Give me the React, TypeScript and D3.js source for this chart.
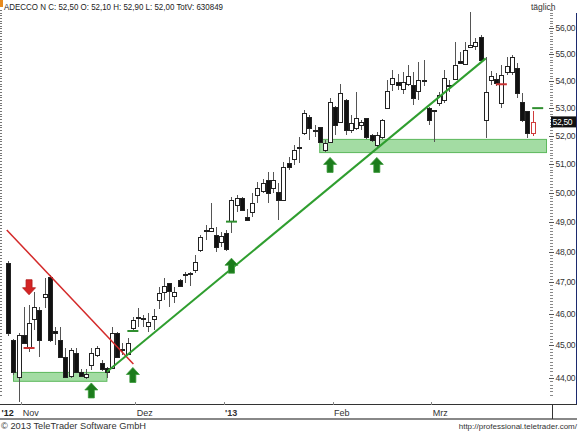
import React, { useEffect } from "react";
import * as d3 from "d3";

// ---- data ----
const opens = [47.63,45.17,44.03,45.33,44.92,45.83,46.11,46.53,47.17,45.44,45.17,44.64,44.06,44.77,44.18,44.03,44.40,44.70,44.46,44.30,44.30,45.39,44.89,44.73,45.54,45.86,45.83,45.61,45.83,46.43,46.70,46.97,46.57,47.08,47.28,47.28,47.40,48.06,48.70,48.70,48.56,48.34,48.62,49.03,49.58,49.80,49.17,49.33,49.93,50.04,50.44,50.16,50.03,49.75,51.02,51.19,51.61,52.09,52.69,52.21,52.30,51.49,51.79,53.05,52.51,53.30,52.21,52.27,52.39,52.63,52.03,51.67,51.97,53.01,53.90,53.97,53.70,53.90,53.85,53.63,53.99,52.99,52.93,53.17,53.30,53.80,54.07,54.75,54.63,55.30,55.33,55.68,52.57,54.04,54.08,53.20,54.32,54.32,54.47,53.24,52.89,52.10];
const highs = [47.70,45.20,45.40,46.21,46.27,46.69,46.21,47.14,47.23,45.58,45.58,44.92,44.92,44.92,44.27,44.27,44.92,44.98,44.55,44.33,45.58,45.42,45.07,45.23,45.89,46.18,45.95,46.02,46.14,46.86,47.14,46.99,46.86,47.10,47.35,47.35,47.89,48.55,48.90,49.63,48.82,48.67,48.73,49.86,49.92,49.84,49.44,49.98,50.38,50.47,50.73,50.70,50.32,51.08,51.25,51.67,51.97,52.93,52.75,52.39,52.33,51.85,53.36,53.07,53.88,53.32,52.75,53.61,52.57,52.63,52.05,52.12,52.60,54.04,54.41,54.26,54.33,54.60,54.34,54.70,54.79,53.05,52.95,53.61,54.41,54.02,55.49,55.10,55.49,56.65,55.62,55.74,54.89,54.36,54.29,54.60,54.92,54.99,54.66,53.55,52.89,52.90];
const lows = [45.30,44.10,43.28,45.03,44.80,45.48,44.64,46.18,45.12,45.01,44.61,43.99,44.00,44.15,44.03,43.97,44.24,44.64,44.21,44.00,44.28,44.61,44.70,44.70,45.45,45.58,45.58,45.42,45.48,46.14,46.43,46.22,46.32,46.86,46.97,46.88,47.31,48.00,48.39,48.67,48.00,48.17,48.03,48.62,49.35,49.36,49.04,49.17,49.66,49.98,49.64,49.98,49.07,49.73,50.79,50.96,51.02,52.02,51.85,51.97,51.78,51.43,51.73,52.02,52.48,52.02,52.09,52.21,52.21,51.90,51.79,51.61,51.90,52.97,53.63,53.67,53.52,53.80,53.11,53.30,53.80,52.39,51.79,53.06,53.18,53.60,54.04,54.63,54.61,55.24,55.17,54.73,51.91,53.85,53.80,53.02,54.22,54.22,53.37,52.51,51.91,52.00];
const closes = [45.39,44.18,45.33,45.07,45.70,46.21,45.17,46.62,45.17,45.40,44.64,44.03,44.86,44.18,44.06,44.12,44.77,44.92,44.27,44.18,45.39,44.64,44.86,45.07,45.80,45.89,45.86,45.73,45.92,46.66,46.88,46.73,46.70,46.88,47.25,47.31,47.68,48.48,48.73,48.80,48.17,48.53,48.08,49.75,49.80,49.40,49.06,49.66,50.15,50.33,49.98,50.44,49.75,50.90,50.90,51.49,51.58,52.81,52.27,52.19,51.79,51.73,53.24,52.39,53.54,52.21,52.45,52.63,52.51,51.97,51.85,52.03,52.57,53.63,54.10,53.85,53.95,54.17,53.38,54.04,54.02,52.57,52.91,53.48,54.11,53.84,54.60,54.67,55.17,55.34,55.49,54.79,53.61,54.17,53.92,54.22,54.56,54.89,53.55,52.57,52.09,52.50];

const yTickValues = [44, 45, 46, 47, 48, 49, 50, 51, 52, 53, 54, 55, 56];
const monthTickIndex = [3, 25, 42, 63, 82];
const monthTickText = ["Nov", "Dez", "'13", "Feb", "Mrz"];
const monthTickBold = [false, false, true, false, false];
const yearStartLabel = "'12";

const greenLine = [{ i: 19, v: 44.19 }, { i: 92, v: 54.85 }];
const redLine = [{ i: -0.3, v: 48.73 }, { i: 24.1, v: 44.43 }];
const zoneFrom = [1, 60];
const zoneTo = [19, 103.7];
const zoneLow = [43.9, 51.4];
const zoneHigh = [44.17, 51.87];
const upArrowIndex = [16, 24, 43, 62, 71];
const upArrowTip = [43.85, 44.32, 47.79, 51.23, 51.23];
const downArrowIndex = [4];
const downArrowTip = [46.6];
const markIndex = [4, 24, 43, 95, 102];
const markValue = [44.92, 45.45, 49.01, 53.88, 53.0];
const markKind = ["sell", "buy", "buy", "sell", "buy"];

const lastPrice = 52.5;
const headerText = "ADECCO N C: 52,50 O: 52,10 H: 52,90 L: 52,00 TotV: 630849";

const W = 578;
const H = 432;
const FONT = "'Liberation Sans', Arial, sans-serif";

export default function App() {
  useEffect(() => {
    document.body.style.margin = "0";
  }, []);

  const n = opens.length;
  const x = d3.scaleLinear().domain([0, n - 1]).range([8.3, 532.5]);
  const y = d3.scaleLog().domain([44, 56]).range([378, 28.3]);
  const fmt = (v: number) => v.toFixed(2).replace(".", ",");
  const cx = (i: number) => Math.round(x(i)) + 0.5;

  const minorTicks = d3.range(435, 568).map((k) => k / 10);
  const lineGen = d3
    .line<{ i: number; v: number }>()
    .x((d) => x(d.i))
    .y((d) => y(d.v));

  const upArrow = (px: number, t: number) =>
    `M${px},${t} L${px + 6.5},${t + 7} L${px + 3},${t + 7} L${px + 3},${t + 15} L${px - 3},${t + 15} L${px - 3},${t + 7} L${px - 6.5},${t + 7} Z`;
  const downArrow = (px: number, t: number) =>
    `M${px},${t} L${px + 6.5},${t - 7} L${px + 3},${t - 7} L${px + 3},${t - 15} L${px - 3},${t - 15} L${px - 3},${t - 7} L${px - 6.5},${t - 7} Z`;

  return (
    <svg
      width={W}
      height={H}
      style={{ position: "absolute", left: 0, top: 0, display: "block", background: "#fff" }}
      fontFamily={FONT}
    >
      <rect x={0} y={0} width={W} height={H} fill="#fff" />
      {/* header */}
      <rect x={0} y={0} width={3} height={7} fill="#e8891c" />
      <text x={4} y={9.5} fontSize={9.5} fill="#222" textLength={219} lengthAdjust="spacingAndGlyphs">
        {headerText}
      </text>
      <text x={531} y={9.5} fontSize={8.5} fill="#333">täglich</text>

      {/* support zones */}
      {zoneFrom.map((f, k) => (
        <rect
          key={"z" + k}
          x={x(f)}
          y={y(zoneHigh[k])}
          width={x(zoneTo[k]) - x(f)}
          height={y(zoneLow[k]) - y(zoneHigh[k])}
          fill="#a3dca3"
          stroke="#5cb85c"
          strokeWidth={1}
        />
      ))}

      {/* candles */}
      {opens.map((o, i) => {
        const c = closes[i];
        const up = c >= o;
        const last = i === n - 1;
        const stroke = last ? "#d03c3c" : "#222";
        const px = cx(i);
        const top = Math.round(y(Math.max(o, c)));
        const bot = Math.round(y(Math.min(o, c)));
        return (
          <g key={i} shapeRendering="crispEdges">
            <line x1={px} x2={px} y1={Math.round(y(highs[i]))} y2={Math.round(y(lows[i]))} stroke={last ? stroke : "#555"} strokeWidth={1} />
            <rect
              x={px - 2}
              y={top + 0.5}
              width={4}
              height={Math.max(bot - top, 1)}
              fill={up ? "#fff" : "#111"}
              stroke={stroke}
              strokeWidth={1}
            />
          </g>
        );
      })}

      {/* trend lines */}
      <path d={lineGen(redLine) || ""} stroke="#d42a2a" strokeWidth={1.5} fill="none" />
      <path d={lineGen(greenLine) || ""} stroke="#2f9e2f" strokeWidth={2} fill="none" />

      {/* markers */}
      {markIndex.map((mi, k) => (
        <line
          key={"m" + k}
          x1={x(mi) - 5.5}
          x2={x(mi) + 5.5}
          y1={y(markValue[k])}
          y2={y(markValue[k])}
          stroke={markKind[k] === "buy" ? "#2f8f2f" : "#c83232"}
          strokeWidth={2}
        />
      ))}

      {/* arrows */}
      {upArrowIndex.map((ai, k) => (
        <path key={"ua" + k} d={upArrow(x(ai), y(upArrowTip[k]))} fill="#1c7c1c" stroke="#3a9a3a" strokeWidth={0.8} />
      ))}
      {downArrowIndex.map((ai, k) => (
        <path key={"da" + k} d={downArrow(x(ai), y(downArrowTip[k]))} fill="#d42424" stroke="#b01818" strokeWidth={0.8} />
      ))}

      {/* left axis minor ticks */}
      <g shapeRendering="crispEdges">
        {minorTicks.map((v, k) => (
          <line key={"lt" + k} x1={0} x2={2} y1={Math.round(y(v)) + 0.5} y2={Math.round(y(v)) + 0.5} stroke="#777" />
        ))}
      </g>

      {/* right axis */}
      <g shapeRendering="crispEdges">
        {minorTicks.map((v, k) => (
          <line key={"rt" + k} x1={550} x2={553} y1={Math.round(y(v)) + 0.5} y2={Math.round(y(v)) + 0.5} stroke="#888" />
        ))}
        {yTickValues.map((v) => (
          <line key={"rT" + v} x1={549} x2={554} y1={Math.round(y(v)) + 0.5} y2={Math.round(y(v)) + 0.5} stroke="#555" />
        ))}
        <line x1={576.5} x2={576.5} y1={13} y2={405} stroke="#1c2a6e" strokeWidth={1.5} />
      </g>
      {yTickValues.map((v) => (
        <text key={"rl" + v} x={555.5} y={y(v) + 3} fontSize={8.5} fill="#333" letterSpacing={-0.3}>
          {fmt(v)}
        </text>
      ))}
      <rect x={551} y={y(lastPrice) - 5.5} width={25} height={11} fill="#111" />
      <text x={552.5} y={y(lastPrice) + 3} fontSize={8.5} fill="#fff" letterSpacing={-0.3}>
        {fmt(lastPrice)}
      </text>

      {/* bottom axis */}
      <g shapeRendering="crispEdges">
        <line x1={0} x2={577} y1={404.5} y2={404.5} stroke="#333" />
        <line x1={0} x2={577} y1={418.5} y2={418.5} stroke="#888" strokeWidth={2} />
        <line x1={552.5} x2={552.5} y1={404} y2={419} stroke="#333" />
        {monthTickIndex.map((mi, k) => (
          <line key={"bt" + k} x1={Math.round(x(mi) - 2.6) + 0.5} x2={Math.round(x(mi) - 2.6) + 0.5} y1={402} y2={405} stroke="#888" />
        ))}
      </g>
      <text x={1.5} y={416} fontSize={9} fontWeight="bold" fill="#222">{yearStartLabel}</text>
      {monthTickIndex.map((mi, k) => (
        <text key={"bl" + k} x={x(mi) - 1.2} y={416} fontSize={9} fill="#333" fontWeight={monthTickBold[k] ? "bold" : "normal"}>
          {monthTickText[k]}
        </text>
      ))}

      {/* footer */}
      <text x={1} y={429} fontSize={9} fill="#333" textLength={145} lengthAdjust="spacingAndGlyphs">
        © 2013 TeleTrader Software GmbH
      </text>
      <text x={577} y={429} fontSize={8} fill="#333" textAnchor="end">
        http://professional.teletrader.com/
      </text>
    </svg>
  );
}
